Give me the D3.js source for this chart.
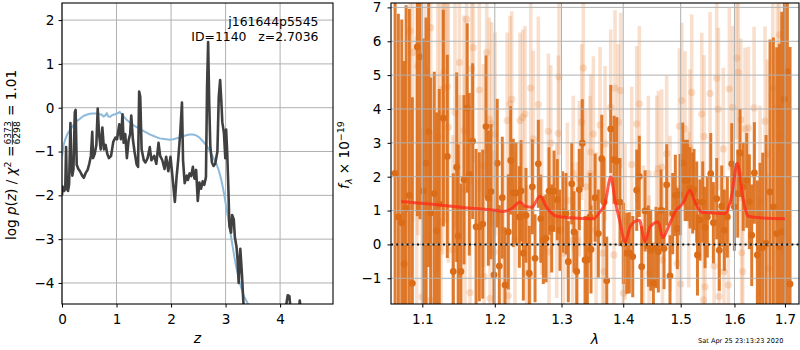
<!DOCTYPE html>
<html><head><meta charset="utf-8">
<script src="https://cdn.jsdelivr.net/npm/d3@7"></script>
<style>body{margin:0;background:#fff} text{font-family:"DejaVu Sans",sans-serif;fill:#000}</style>
</head><body><svg id="c" width="800" height="350"></svg>
<script>
// ---------- left panel: log p(z) ----------
const zGrid=[0.00,0.01,0.04,0.06,0.075,0.09,0.11,0.13,0.155,0.17,0.19,0.21,0.235,0.25,0.27,0.30,0.33,0.37,0.40,0.43,0.47,0.50,0.53,0.555,0.57,0.60,0.63,0.655,0.68,0.71,0.74,0.77,0.80,0.83,0.86,0.90,0.94,0.98,1.01,1.05,1.08,1.11,1.13,1.16,1.19,1.22,1.25,1.27,1.30,1.33,1.37,1.395,1.415,1.435,1.46,1.50,1.53,1.57,1.61,1.64,1.69,1.73,1.77,1.80,1.84,1.88,1.91,1.95,1.99,2.02,2.07,2.10,2.13,2.17,2.20,2.22,2.25,2.29,2.31,2.34,2.37,2.40,2.43,2.46,2.49,2.52,2.55,2.58,2.61,2.64,2.66,2.68,2.70,2.72,2.75,2.78,2.81,2.85,2.875,2.90,2.92,2.94,2.97,2.995,3.01,3.03,3.05,3.07,3.10,3.12,3.15,3.17,3.20,3.22,3.24,3.27,3.30,3.32,3.34,3.40,4.05,4.10,4.14,4.17,4.20,4.25,4.33,4.36,4.38,4.45,4.97];
const logPz=[-2.0,-1.8,-1.9,-1.85,-0.9,-1.85,-1.9,-1.75,-0.35,-1.3,-1.55,-1.4,-0.1,-0.05,-1.3,-1.4,-1.45,-1.55,-1.6,-1.5,-1.42,-1.28,-1.1,-0.55,-1.15,-1.05,-0.85,-0.02,-0.6,-0.95,-0.45,-0.95,-0.85,-1.05,-1.15,-1.1,-0.78,-0.68,-0.72,-0.38,-0.72,-0.15,-0.8,-0.6,-1.15,-0.75,-0.6,-0.18,-0.72,-1.0,-1.3,-1.35,0.37,0.25,-0.95,-1.2,-1.25,-1.15,-0.9,-1.2,-1.1,-1.28,-0.8,-1.1,-1.2,-1.4,-1.12,-1.45,-1.12,-1.5,-2.15,-1.6,-1.2,-0.55,0.12,-1.2,-1.72,-1.55,-1.65,-1.5,-1.56,-1.35,-1.62,-1.42,-2.13,-1.71,-1.85,-1.68,-1.76,-1.58,0.45,1.5,0.1,-0.88,-1.25,-1.33,-1.28,-1.0,0.25,0.63,0.2,-0.33,-0.58,-1.15,-0.5,-1.02,-1.8,-2.7,-2.85,-2.45,-2.55,-2.95,-3.17,-3.47,-4.0,-3.22,-3.8,-4.3,-4.7,-5.5,-5.5,-4.6,-4.28,-4.3,-4.7,-5.2,-5.0,-4.4,-4.6,-5.5,-6.0];
const zPrior=[0.00,0.03,0.06,0.10,0.15,0.21,0.27,0.33,0.39,0.45,0.51,0.57,0.63,0.68,0.73,0.76,0.79,0.82,0.85,0.88,0.92,0.97,1.03,1.06,1.09,1.12,1.18,1.24,1.30,1.36,1.43,1.49,1.55,1.61,1.67,1.73,1.79,1.85,1.91,1.97,2.04,2.10,2.16,2.22,2.28,2.34,2.40,2.46,2.52,2.58,2.64,2.70,2.76,2.83,2.88,2.92,2.95,2.98,3.01,3.04,3.07,3.10,3.13,3.16,3.19,3.22,3.25,3.28,3.31,3.34,3.40,3.45,3.55];
const logPrior=[-1.12,-0.85,-0.72,-0.6,-0.5,-0.4,-0.31,-0.25,-0.19,-0.16,-0.14,-0.13,-0.13,-0.15,-0.16,-0.2,-0.18,-0.13,-0.2,-0.21,-0.17,-0.15,-0.12,-0.1,-0.14,-0.18,-0.27,-0.33,-0.39,-0.44,-0.48,-0.53,-0.57,-0.61,-0.64,-0.67,-0.7,-0.71,-0.72,-0.73,-0.72,-0.7,-0.68,-0.65,-0.63,-0.61,-0.61,-0.63,-0.68,-0.76,-0.85,-0.96,-1.1,-1.27,-1.45,-1.64,-1.82,-2.02,-2.25,-2.48,-2.7,-2.94,-3.17,-3.4,-3.6,-3.78,-3.94,-4.08,-4.2,-4.31,-4.45,-4.56,-4.75];
const zTicks=[0,1,2,3,4];
const pTicks=[-4,-3,-2,-1,0,1,2];

// ---------- right panel: spectrum ----------
const darkWave=[1.0646,1.0688,1.0732,1.0762,1.0788,1.0830,1.0869,1.0934,1.0970,1.1013,1.1049,1.1084,1.1111,1.1159,1.1191,1.1226,1.1281,1.1335,1.1417,1.1463,1.1484,1.1522,1.1564,1.1609,1.1638,1.1685,1.1733,1.1779,1.1827,1.1874,1.1907,1.1945,1.1988,1.2035,1.2065,1.2108,1.2148,1.2196,1.2231,1.2269,1.2309,1.2359,1.2384,1.2418,1.2458,1.2508,1.2553,1.2594,1.2644,1.2680,1.2720,1.2761,1.2807,1.2848,1.2884,1.2935,1.2977,1.3019,1.3071,1.3107,1.3161,1.3197,1.3240,1.3281,1.3329,1.3373,1.3410,1.3453,1.3469,1.3535,1.3588,1.3644,1.3682,1.3726,1.3791,1.3846,1.3891,1.3946,1.4002,1.4059,1.4103,1.4161,1.4229,1.4273,1.4314,1.4372,1.4429,1.4470,1.4516,1.4562,1.4603,1.4650,1.4703,1.4750,1.4809,1.4857,1.4904,1.4940,1.4988,1.5037,1.5079,1.5121,1.5169,1.5218,1.5242,1.5291,1.5305,1.5352,1.5402,1.5445,1.5488,1.5551,1.5600,1.5663,1.5712,1.5757,1.5807,1.5864,1.5948,1.5998,1.6063,1.6107,1.6171,1.6237,1.6289,1.6335,1.6387,1.6446,1.6499,1.6553,1.6619,1.6698,1.6765,1.6833,1.6886,1.6935,1.6988,1.7049,1.7104];
const darkFlux=[2.1,0.81,0.64,-0.58,1.06,1.45,-1.15,5.83,5.54,1.58,2.4,3.33,0.93,1.5,0.4,1.19,3.73,2.6,-0.8,2.28,0.25,-0.8,1.91,4.03,2.07,3.05,0.52,0.52,0.6,3.48,1.37,1.56,-0.9,2.4,-0.64,1.38,-1.2,0.37,2.48,1.52,1.52,0.81,1.58,-0.26,0.86,-0.85,1.7,-0.41,2.38,0.76,0.13,0.18,1.57,0.47,1.57,1.32,0.42,0.96,0.91,-0.51,1.79,0.37,-0.8,1.62,2.99,-0.46,-0.46,0.81,-0.15,1.38,0.32,2.53,1.25,-1.07,3.41,2.5,2.46,1.25,0.03,-0.26,-0.25,-0.36,1.6,2.01,-0.66,0.99,-0.05,-0.17,-1.15,-0.09,-0.22,1.01,-0.12,1.76,-0.93,0.91,1.45,0.47,1.47,2.4,1.89,1.89,1.67,1.52,1.62,1.25,-0.31,0.72,1.25,0.5,0.81,2.09,0.64,1.35,-0.17,1.13,0.42,0.81,2.38,1.11,1.5,2.7,1.7,1.89,1.26,0.27,2.11,-0.31,-0.09,-0.09,0.03,1.55,1.11,0.32,-0.07,0.37,4.29,5.1,-1.17];
const darkErr=[6,6,6,6,6,5.5,5.5,5,4.8,4.5,4.3,4,4,3.6,3.5,3.4,3.2,3,2.9,2.8,2.7,2.6,2.5,2.5,2.4,2.3,2.3,2.2,2.2,2.1,2.0,2.0,1.9,1.9,1.8,1.8,1.7,1.7,1.6,1.6,1.5,1.5,1.5,1.4,1.4,1.4,1.4,1.3,1.3,1.3,1.3,1.3,1.3,1.3,1.2,1.2,1.2,1.2,1.2,1.2,1.2,1.2,1.2,1.2,1.3,1.3,1.3,1.3,1.3,1.3,1.3,1.3,1.3,1.3,1.3,1.3,1.3,1.3,1.2,1.2,1.2,1.2,1.2,1.2,1.2,1.2,1.2,1.2,1.2,1.2,1.2,1.2,1.2,1.2,1.2,1.2,1.2,1.2,1.2,1.2,1.2,1.2,1.2,1.2,1.2,1.2,1.2,1.2,1.2,1.2,1.2,1.2,1.2,1.2,1.2,1.2,1.2,1.2,1.2,1.3,1.3,1.3,1.3,1.4,1.4,1.5,1.5,2.2,2.5,2.8,3.2,4.5,5,5.5,6,6.5,7,7,7];
const lightWave=[1.0839,1.0874,1.0926,1.0939,1.0996,1.1035,1.1058,1.1111,1.1115,1.1205,1.1236,1.1250,1.1273,1.1288,1.1304,1.1335,1.1349,1.1409,1.1440,1.1500,1.1509,1.1564,1.1578,1.1601,1.1648,1.1671,1.1694,1.1779,1.1836,1.1846,1.1884,1.1921,1.1931,1.1955,1.1988,1.2003,1.2122,1.2180,1.2196,1.2221,1.2246,1.2294,1.2369,1.2409,1.2443,1.2468,1.2518,1.2529,1.2568,1.2644,1.2695,1.2797,1.2807,1.2833,1.2926,1.2951,1.2961,1.3029,1.3092,1.3176,1.3186,1.3250,1.3281,1.3319,1.3345,1.3388,1.3453,1.3464,1.3507,1.3551,1.3616,1.3660,1.3682,1.3698,1.3791,1.3846,1.3863,1.3918,1.3958,1.4002,1.4030,1.4143,1.4229,1.4273,1.4343,1.4429,1.4441,1.4574,1.4603,1.4662,1.4676,1.4750,1.4809,1.4940,1.4976,1.5001,1.5019,1.5079,1.5145,1.5169,1.5200,1.5384,1.5414,1.5427,1.5445,1.5538,1.5613,1.5663,1.5694,1.5706,1.5788,1.5801,1.5883,1.5902,1.5967,1.6043,1.6075,1.6121,1.6140,1.6160,1.6205,1.6270,1.6381,1.6485,1.6499,1.6599,1.6645,1.6665,1.6754,1.6847,1.6886,1.6935];
const lightFlux=[6.3,5.67,1.13,5.27,-1.55,2.87,0.23,6.4,-1.64,3.19,3.8,0.67,3.7,5.08,4.62,4.66,3.46,-0.17,3.9,5.37,1.01,3.36,1.6,6.65,-1.42,5.18,5.81,4.56,2.33,-0.95,5.67,3.7,-1.59,3.56,-0.22,3.26,0.42,3.66,-1.52,4.15,4.29,0.13,3.66,3.75,3.85,-0.85,-0.95,4.62,3.12,4.13,1.4,3.34,-0.22,2.99,0.72,3.28,4.95,-0.26,1.3,0.13,2.09,0.13,1.94,3.61,5.21,1.7,2.09,2.73,3.26,0.42,3.53,-0.26,-0.8,2.97,4.05,-0.31,4.62,3.61,4.54,-1.44,0.67,2.36,3.56,4.15,0.03,2.09,-0.85,2.09,2.24,2.28,-0.46,2.68,0.91,-0.56,3.49,-1.17,4.25,3.41,1.03,2.87,4.49,3.85,-1.64,3.19,-1.25,4.46,-0.64,4.91,4.0,-1.54,2.82,-0.8,-1.2,4.59,4.05,5.5,5.08,3.68,-0.25,-0.8,3.41,3.44,4.03,-1.54,1.3,3.64,2.66,-0.71,4.62,4.03,6.19,3.22];
const lightErr=[5,5,5,5,5,5,5,5,5,4,4,4,4,4,4,4,4,3.4,3.4,3.4,3.4,3.4,3.4,3.4,3.4,3.4,3.4,3,3,3,3,3,3,3,3,3,2.6,2.6,2.6,2.6,2.6,2.6,2.6,2.6,2.6,2.6,2.6,2.6,2.6,2.6,2.3,2.3,2.3,2.3,2.3,2.3,2.3,2.3,2.3,2.3,2.3,2.3,2.3,2.3,2.3,2.3,2.3,2.3,2.3,2.3,2.3,2.3,2.3,2.3,2.3,2.3,2.3,2.3,2.3,2.3,2.3,2.3,2.3,2.3,2.3,2.3,2.3,2.3,2.3,2.3,2.3,2.3,2.3,2.3,2.3,2.3,2.3,2.3,2.3,2.3,2.3,2.4,2.4,2.4,2.4,2.4,2.4,2.4,2.4,2.4,2.4,2.4,2.4,2.4,2.4,2.4,2.4,2.4,2.4,2.4,2.4,2.4,2.4,2.8,2.8,2.8,2.8,2.8,3.5,3.5,3.5,3.5];
const modelWave=[1.0723,1.1102,1.1557,1.2027,1.2122,1.2246,1.2369,1.2443,1.2544,1.2669,1.2771,1.2926,1.3134,1.3506,1.3616,1.3698,1.3791,1.3863,1.3946,1.4030,1.4115,1.4183,1.4273,1.4372,1.4458,1.4603,1.4680,1.4779,1.4899,1.5048,1.5169,1.5260,1.5384,1.5600,1.5820,1.5948,1.6055,1.6160,1.6270,1.6565,1.7000];
const modelFlux=[1.27,1.19,1.09,1.0,0.97,1.06,1.25,1.13,1.1,1.42,1.09,0.83,0.79,0.76,0.97,1.2,1.99,1.3,0.66,0.07,0.51,0.66,0.71,0.08,0.52,0.66,0.20,0.51,0.96,1.23,1.6,1.25,0.95,0.93,0.91,1.45,2.4,1.4,0.83,0.78,0.76];
const wTicks=[1.1,1.2,1.3,1.4,1.5,1.6,1.7];
const fTicks=[-1,0,1,2,3,4,5,6,7];

const svg=d3.select("#c");
const L={x0:62,x1:333,y0:3,y1:304};
const R={x0:391,x1:799,y0:3,y1:304};
const xz=d3.scaleLinear().domain([0,4.97]).range([L.x0,L.x1]);
const yp=d3.scaleLinear().domain([-4.48,2.39]).range([L.y1,L.y0]);
const xw=d3.scaleLog().domain([1.0594,1.7289]).range([R.x0,R.x1]);
const yf=d3.scaleLinear().domain([-1.76,7.13]).range([R.y1,R.y0]);
const FS=13.6, GRID="#b0b0b0";
const minus=v=>(v<0?"\u2212":"")+Math.abs(v);

const defs=svg.append("defs");
defs.append("clipPath").attr("id","cl").append("rect").attr("x",L.x0).attr("y",L.y0).attr("width",L.x1-L.x0).attr("height",L.y1-L.y0);
defs.append("clipPath").attr("id","cr").append("rect").attr("x",R.x0).attr("y",R.y0).attr("width",R.x1-R.x0).attr("height",R.y1-R.y0);

// ---- left panel ----
const gl=svg.append("g");
const gridL=gl.append("g").attr("stroke",GRID).attr("stroke-width",1);
gridL.selectAll("line.v").data(zTicks).join("line").attr("x1",d=>xz(d)).attr("x2",d=>xz(d)).attr("y1",L.y0).attr("y2",L.y1);
gridL.selectAll("line.h").data(pTicks).join("line").attr("x1",L.x0).attr("x2",L.x1).attr("y1",d=>yp(d)).attr("y2",d=>yp(d));
const plotL=gl.append("g").attr("clip-path","url(#cl)");
plotL.append("path").datum(d3.zip(zPrior,logPrior)).attr("fill","none").attr("stroke","#8dbadb").attr("stroke-width",2)
  .attr("d",d3.line().x(d=>xz(d[0])).y(d=>yp(d[1])));
plotL.append("path").datum(d3.zip(zGrid,logPz)).attr("fill","none").attr("stroke","#404040").attr("stroke-width",2.6).attr("stroke-linejoin","round")
  .attr("d",d3.line().x(d=>xz(d[0])).y(d=>yp(d[1])));
gl.append("rect").attr("x",L.x0).attr("y",L.y0).attr("width",L.x1-L.x0).attr("height",L.y1-L.y0).attr("fill","none").attr("stroke","#000").attr("stroke-width",1.1);
const axLB=gl.append("g").attr("transform",`translate(0,${L.y1})`).call(d3.axisBottom(xz).tickValues(zTicks).tickSize(3.5).tickPadding(7).tickFormat(d3.format("d")));
const axLL=gl.append("g").attr("transform",`translate(${L.x0},0)`).call(d3.axisLeft(yp).tickValues(pTicks).tickSize(3.5).tickPadding(4).tickFormat(minus));
[axLB,axLL].forEach(a=>{a.select(".domain").remove();a.selectAll("text").style("font-size",FS+"px").style("font-family","DejaVu Sans");a.selectAll("line").attr("stroke","#000");});

gl.append("text").attr("x",318.5).attr("y",26).attr("text-anchor","end").style("font-size","12.4px").text("j161644p5545");
gl.append("text").attr("x",318.5).attr("y",40.5).attr("text-anchor","end").style("font-size","12.4px").style("white-space","pre").text("ID=1140   z=2.7036");
gl.append("text").attr("x",(L.x0+L.x1)/2).attr("y",343).attr("text-anchor","middle").style("font-size","14px").style("font-style","italic").text("z");

// left y label with fraction
const lab=svg.append("g").attr("transform","translate(16,155) rotate(-90)");
const inner=lab.append("g");
const t1=inner.append("text").style("font-size",FS+"px");
t1.append("tspan").text("log ");
t1.append("tspan").style("font-style","italic").text("p");
t1.append("tspan").text("(");
t1.append("tspan").style("font-style","italic").text("z");
t1.append("tspan").text(") / ");
t1.append("tspan").style("font-style","italic").text("\u03C7");
t1.append("tspan").attr("dy",-5.5).style("font-size","9.5px").text("2");
t1.append("tspan").attr("dy",5.5).text(" = ");
const w1=t1.node().getComputedTextLength();
const fsz=9.2;
const num=inner.append("text").style("font-size",fsz+"px").attr("text-anchor","middle").attr("y",-5).text("6373");
const fw=num.node().getComputedTextLength();
num.attr("x",w1+1+fw/2);
inner.append("text").style("font-size",fsz+"px").attr("text-anchor","middle").attr("x",w1+1+fw/2).attr("y",4.4).text("6298");
inner.append("line").attr("x1",w1+1).attr("x2",w1+1+fw).attr("y1",-3.6).attr("y2",-3.6).attr("stroke","#000").attr("stroke-width",0.8);
const t3=inner.append("text").style("font-size",FS+"px").attr("x",w1+fw+2).style("white-space","pre").text(" = 1.01");
const W=w1+fw+2+t3.node().getComputedTextLength();
inner.attr("transform",`translate(${-W/2},0)`);

// ---- right panel ----
const gr=svg.append("g");
const plotR=gr.append("g").attr("clip-path","url(#cr)");
const lightC="#e8843a", darkC="#dc6d18";
const light=d3.range(lightWave.length).map(i=>({w:lightWave[i],f:lightFlux[i],e:lightErr[i]}));
const dark=d3.range(darkWave.length).map(i=>({w:darkWave[i],f:darkFlux[i],e:darkErr[i]}));
const gLight=plotR.append("g").attr("opacity",1);
gLight.selectAll("line").data(light).join("line").attr("x1",d=>xw(d.w)).attr("x2",d=>xw(d.w)).attr("y1",d=>yf(d.f-d.e)).attr("y2",d=>yf(d.f+d.e))
  .attr("stroke",lightC).attr("stroke-opacity",0.25).attr("stroke-width",3.6);
gLight.selectAll("circle").data(light).join("circle").attr("cx",d=>xw(d.w)).attr("cy",d=>yf(d.f)).attr("r",3.6).attr("fill",lightC).attr("fill-opacity",0.25);
const gDark=plotR.append("g");
gDark.selectAll("line").data(dark).join("line").attr("x1",d=>xw(d.w)).attr("x2",d=>xw(d.w)).attr("y1",d=>yf(d.f-d.e)).attr("y2",d=>yf(d.f+d.e))
  .attr("stroke",darkC).attr("stroke-opacity",0.9).attr("stroke-width",3);
gDark.selectAll("circle").data(dark).join("circle").attr("cx",d=>xw(d.w)).attr("cy",d=>yf(d.f)).attr("r",3.4).attr("fill",darkC);
// grid (drawn over the error bars as in the reference)
const gridR=gr.append("g").attr("stroke",GRID).attr("stroke-width",1);
gridR.selectAll("line.v").data(wTicks).join("line").attr("x1",d=>xw(d)).attr("x2",d=>xw(d)).attr("y1",R.y0).attr("y2",R.y1);
gridR.selectAll("line.h").data(fTicks).join("line").attr("x1",R.x0).attr("x2",R.x1).attr("y1",d=>yf(d)).attr("y2",d=>yf(d));
const plotR2=gr.append("g").attr("clip-path","url(#cr)");
plotR2.append("line").attr("x1",R.x0).attr("x2",R.x1).attr("y1",yf(0)).attr("y2",yf(0)).attr("stroke","#111").attr("stroke-width",2).attr("stroke-dasharray","2,3.2");
plotR2.append("path").datum(d3.zip(modelWave,modelFlux)).attr("fill","none").attr("stroke","#ff2a1a").attr("stroke-opacity",0.75).attr("stroke-width",3).attr("stroke-linejoin","round")
  .attr("d",d3.line().curve(d3.curveMonotoneX).x(d=>xw(d[0])).y(d=>yf(d[1])));
gr.append("rect").attr("x",R.x0).attr("y",R.y0).attr("width",R.x1-R.x0).attr("height",R.y1-R.y0).attr("fill","none").attr("stroke","#000").attr("stroke-width",1.1);
const axRB=gr.append("g").attr("transform",`translate(0,${R.y1})`).call(d3.axisBottom(xw).tickValues(wTicks).tickSize(3.5).tickPadding(7).tickFormat(d3.format(".1f")));
const axRL=gr.append("g").attr("transform",`translate(${R.x0},0)`).call(d3.axisLeft(yf).tickValues(fTicks).tickSize(3.5).tickPadding(6).tickFormat(minus));
[axRB,axRL].forEach(a=>{a.select(".domain").remove();a.selectAll("text").style("font-size",FS+"px").style("font-family","DejaVu Sans");a.selectAll("line").attr("stroke","#000");});
gr.append("text").attr("x",(R.x0+R.x1)/2).attr("y",344).attr("text-anchor","middle").style("font-size","14px").style("font-style","italic").text("\u03BB");
const rl=gr.append("text").attr("transform","translate(349,155) rotate(-90)").attr("text-anchor","middle").style("font-size",FS+"px");
rl.append("tspan").style("font-style","italic").text("f");
rl.append("tspan").attr("dy",3).style("font-size","9.5px").style("font-style","italic").text("\u03BB");
rl.append("tspan").attr("dy",-3).text(" \u00D7 10");
rl.append("tspan").attr("dy",-5.5).style("font-size","9.5px").text("\u221219");
gr.append("text").attr("x",698).attr("y",342.5).style("font-size","6.6px").text("Sat Apr 25 23:13:23 2020");
</script></body></html>
